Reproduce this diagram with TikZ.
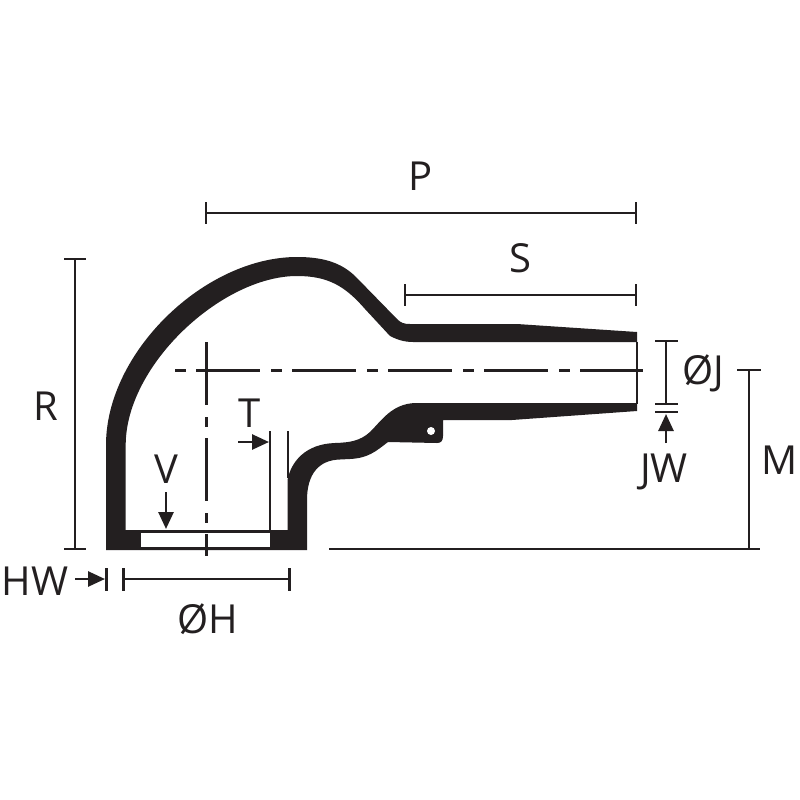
\documentclass[tikz,border=0pt]{standalone}
\usepackage{fontspec}
\setmainfont{Open Sans}
\usetikzlibrary{arrows.meta}
\definecolor{ink}{HTML}{231F20}
\tikzset{
  x=1pt,y=-1pt,
  dim/.style={draw=ink,line width=2.7pt},
  center line/.style={draw=ink,line width=3pt},
  pointer/.style={draw=ink,line width=2.7pt,-{Triangle[length=17pt,width=15pt]}},
  lbl/.style={text=ink,font=\fontsize{40}{40}\selectfont,inner sep=0pt,anchor=base}
}
\begin{document}
\begin{tikzpicture}
\useasboundingbox[fill=white] (0,0) rectangle (800,800);
% body
\fill[ink]
  (106,550) -- (106,445)
  .. controls (106,352) and (205,257) .. (297,257)
  .. controls (322,257) and (341,262) .. (356,277)
  -- (397,319)
  .. controls (401,323) and (404,324) .. (410,324)
  -- (517,324) -- (637,332) -- (637,342) -- (413,342)
  .. controls (403,342) and (396,339) .. (390,336)
  -- (365,309)
  .. controls (345,286) and (328,276) .. (297,276)
  .. controls (222,276) and (125.7,365) .. (125.7,445)
  -- (125.7,530) -- (287.5,530) -- (287.5,480)
  .. controls (291,462) and (305,444) .. (335,443)
  .. controls (350,442.5) and (360,441) .. (370,432)
  .. controls (382,420) and (392,404) .. (415,403)
  -- (637,403) -- (637,411) -- (512,420) -- (443,420) -- (443,436)
  .. controls (443,441) and (441,443) .. (437,443)
  -- (388,442)
  .. controls (375,452) and (368,458) .. (350,459)
  -- (340,459.5)
  .. controls (318,460) and (307,475) .. (307,500)
  -- (307,550) -- cycle;
\fill[white] (431,431) circle[radius=4];
\fill[white] (141,532) rectangle (270,548);
\draw[ink,line width=2.7pt] (141,531.5) -- (270,531.5) (141,548.8) -- (270,548.8);
\draw[ink,line width=2.4pt] (637,342) -- (637,404);
% centre lines
\draw[center line,dash pattern=on 11pt off 10pt on 64pt off 11pt] (175,370) -- (643,370);
\draw[center line,dash pattern=on 63pt off 12pt on 10pt off 11pt] (206,342) -- (206,556);
% extension lines
\coordinate (t1a) at (270,431); \coordinate (t1b) at (270,531);
\coordinate (t2a) at (288,431); \coordinate (t2b) at (288,478);
\draw[dim] (t1a) -- (t1b) (t2a) -- (t2b);
% P
\coordinate (p1) at (206,213); \coordinate (p2) at (636,213);
\draw[dim] (p1) -- (p2) (206,202) -- (206,224) (636,202) -- (636,224);
\node[lbl] (P) at (421,190) {P};
% S
\coordinate (s1) at (405,295); \coordinate (s2) at (636,295);
\draw[dim] (s1) -- (s2) (405,284) -- (405,306) (636,284) -- (636,306);
\node[lbl] (S) at (520,272) {S};
% R
\coordinate (r1) at (75,259); \coordinate (r2) at (75,549);
\draw[dim] (r1) -- (r2) (64,259) -- (86,259) (64,549) -- (86,549);
\node[lbl] (R) at (46,420) {R};
% M
\coordinate (m1) at (749,370); \coordinate (m2) at (749,549);
\draw[dim] (m1) -- (m2) (737,370) -- (761,370) (329,549) -- (760,549);
\node[lbl] (M) at (780,474) {M};
% ØJ
\coordinate (j1) at (666,341); \coordinate (j2) at (666,404);
\draw[dim] (j1) -- (j2) (655,341) -- (678,341) (655,404) -- (678,404) (655,412) -- (678,412);
\node[lbl] (J) at (703,384) {ØJ};
\node[lbl] (JW) at (664,482) {JW};
\coordinate (jw) at (666,443); \coordinate (jwe) at (666,414);
\draw[pointer] (jw) -- (jwe);
% ØH
\coordinate (h1) at (123.5,579); \coordinate (h2) at (289.5,579);
\draw[dim] (h1) -- (h2) (123.5,568) -- (123.5,591) (289.5,568) -- (289.5,591);
\node[lbl] (H) at (208,633) {ØH};
% HW
\draw[dim] (106.7,568) -- (106.7,591);
\node[lbl] (HW) at (35,595) {HW};
\coordinate (hw) at (75,579); \coordinate (hwe) at (105,579);
\draw[pointer] (hw) -- (hwe);
% T, V
\node[lbl] (T) at (250,427) {T};
\coordinate (ta) at (238,442); \coordinate (tb) at (269,442);
\draw[pointer] (ta) -- (tb);
\node[lbl] (V) at (166,483) {V};
\coordinate (va) at (166,492); \coordinate (vb) at (166,529);
\draw[pointer] (va) -- (vb);
\end{tikzpicture}
\end{document}
